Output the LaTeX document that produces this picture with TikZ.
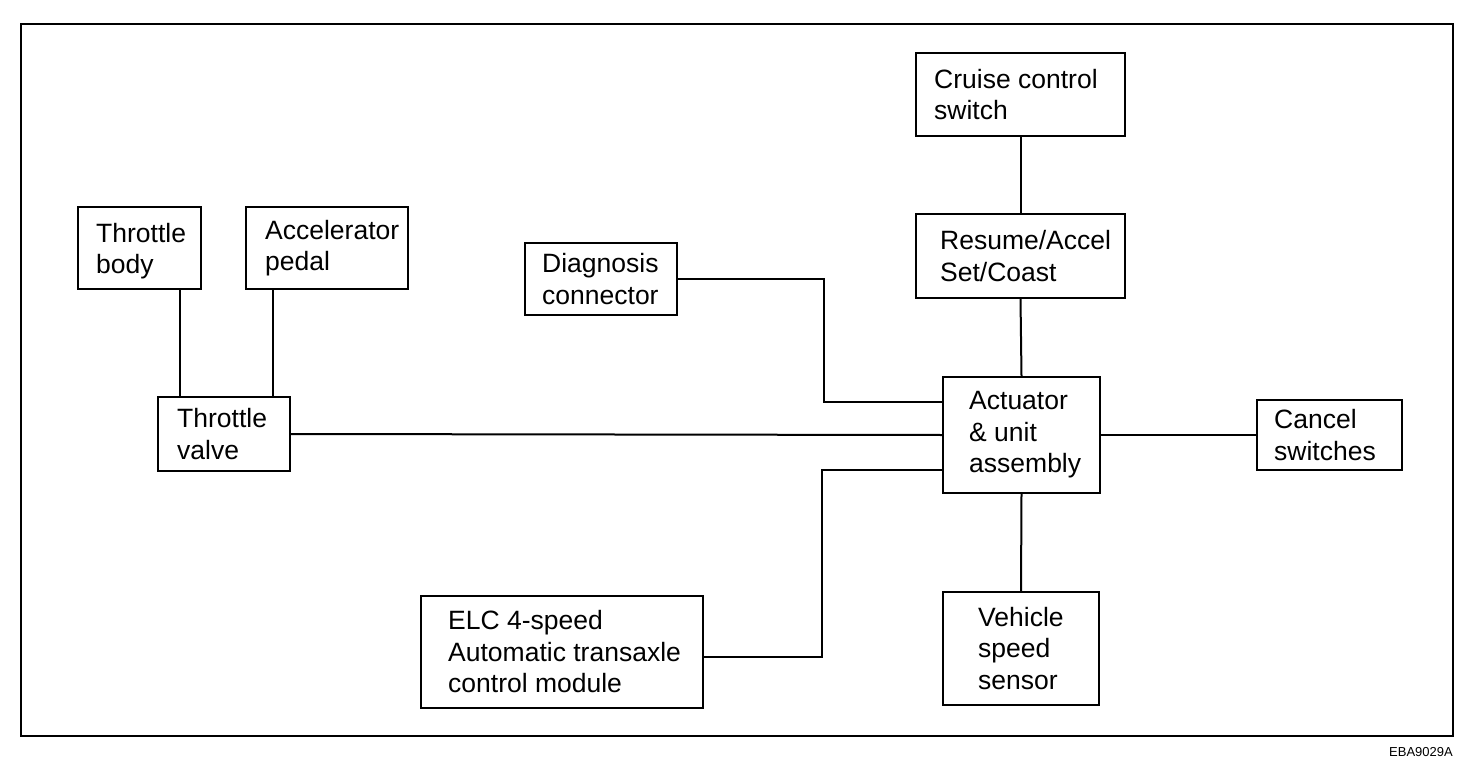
\documentclass[tikz,border=0pt]{standalone}
\usepackage{fontspec}
\setmainfont{Liberation Sans}
\begin{document}
\begin{tikzpicture}[x=1pt,y=-1pt,
  blk/.style={draw, line width=2pt, rectangle, inner sep=0pt},
  txt/.style={anchor=west, align=left, inner sep=0pt, font=\fontsize{26.5}{31.5}\selectfont},
  wire/.style={line width=2pt}]
\useasboundingbox (0,0) rectangle (1472,762);
\draw[line width=2pt] (21,24) rectangle (1453,736);
% boxes
\node[blk, minimum width=123pt, minimum height=82pt] (tb) at (139.5,248) {};
\node[txt] at ([xshift=19pt,yshift=-3pt]tb.west) {Throttle\\body};
\node[blk, minimum width=162pt, minimum height=82pt] (ap) at (327,248) {};
\node[txt] at ([xshift=20pt]ap.west) {Accelerator\\pedal};
\node[blk, minimum width=132pt, minimum height=74pt] (tv) at (224,434) {};
\node[txt] at ([xshift=20pt]tv.west) {Throttle\\valve};
\node[blk, minimum width=209pt, minimum height=83pt] (cc) at (1020.5,94.5) {};
\node[txt] at ([xshift=19pt]cc.west) {Cruise control\\switch};
\node[blk, minimum width=209pt, minimum height=84pt] (ra) at (1020.5,256) {};
\node[txt] at ([xshift=25pt]ra.west) {Resume/Accel\\Set/Coast};
\node[blk, minimum width=152pt, minimum height=72pt] (dc) at (601,279) {};
\node[txt] at ([xshift=18pt]dc.west) {Diagnosis\\connector};
\node[blk, minimum width=157pt, minimum height=116pt] (act) at (1021.5,435) {};
\node[txt] at ([xshift=27pt]act.west) {Actuator\\\& unit\\assembly};
\node[blk, minimum width=145pt, minimum height=70pt] (cs) at (1329.5,435) {};
\node[txt] at ([xshift=18pt]cs.west) {Cancel\\switches};
\node[blk, minimum width=156pt, minimum height=113pt] (vs) at (1021,648.5) {};
\node[txt] at ([xshift=36pt]vs.west) {Vehicle\\speed\\sensor};
\node[blk, minimum width=282pt, minimum height=112pt] (elc) at (562,652) {};
\node[txt] at ([xshift=28pt]elc.west) {ELC 4-speed\\Automatic transaxle\\control module};
% connectors
\draw[wire] ([xshift=40pt]tb.south) -- ([xshift=40pt]tb.south |- tv.north);
\draw[wire] ([xshift=-54pt]ap.south) -- ([xshift=-54pt]ap.south |- tv.north);
\draw[wire] (tv.east) -- (act.west);
\draw[wire] (dc.east) -| ([xshift=-118pt,yshift=33pt]act.west) -- ([yshift=33pt]act.west);
\draw[wire] ([yshift=-5pt]elc.east) -| ([xshift=-120pt,yshift=-35pt]act.west) -- ([yshift=-35pt]act.west);
\draw[wire] (cc.south) -- (ra.north);
\draw[wire] (ra.south) -- (act.north);
\draw[wire] (act.south) -- (vs.north);
\draw[wire] (act.east) -- (cs.west);
\node[anchor=east, inner sep=0pt, font=\fontsize{13}{15}\selectfont] (id) at (1453,752) {EBA9029A};
\end{tikzpicture}
\end{document}
